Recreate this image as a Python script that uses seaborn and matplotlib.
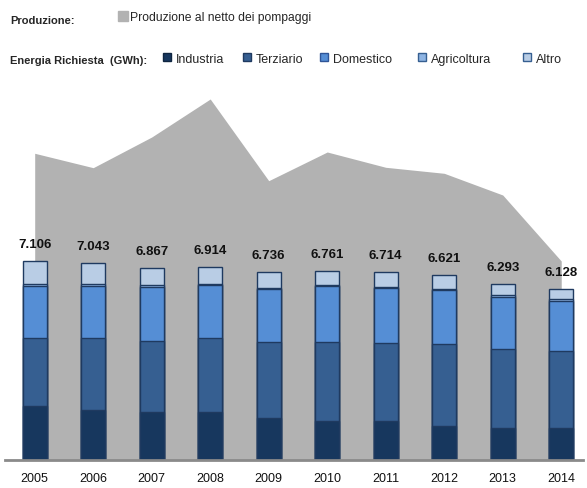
import seaborn as sns
import pandas as pd
import matplotlib.pyplot as plt
from matplotlib.patches import Rectangle

years = ['2005', '2006', '2007', '2008', '2009', '2010', '2011', '2012', '2013', '2014']
industria = [1922, 1780, 1730, 1726, 1513, 1400, 1388, 1228, 1142, 1149]
terziario = [2426, 2575, 2540, 2643, 2690, 2810, 2802, 2912, 2817, 2745]
domestico = [1875, 1877, 1923, 1882, 1898, 2000, 1943, 1937, 1878, 1800]
agricoltura = [54, 51, 48, 48, 47, 50, 50, 50, 50, 50]
altro = [829, 760, 626, 615, 588, 501, 531, 494, 406, 384]
produzione = [10968, 10453, 11550, 12909, 9988, 11014, 10467, 10252, 9476, 7116]

series_names = ['Industria', 'Terziario', 'Domestico', 'Agricoltura', 'Altro']
colors = ['#17375e', '#365f91', '#558ed5', '#8eb4e3', '#b9cde5']
edge = '#1f3a60'

df = pd.DataFrame({'anno': years, 'Industria': industria, 'Terziario': terziario,
                   'Domestico': domestico, 'Agricoltura': agricoltura, 'Altro': altro})
cum = df[series_names].cumsum(axis=1)
cum['anno'] = df['anno']

sns.set_style('white')
plt.rcParams['font.family'] = ['Liberation Sans', 'DejaVu Sans']

fig = plt.figure(figsize=(5.87, 4.89), dpi=100)
ax = fig.add_axes([0.00928, 0.05726, 0.9847, 0.7587])

# area: produzione al netto dei pompaggi
ax.fill_between(range(len(years)), produzione, color='#b2b2b2', lw=0, zorder=0)

# stacked bars, drawn from the top segment down
for name, col in reversed(list(zip(series_names, colors))):
    sns.barplot(data=cum, x='anno', y=name, color=col, width=0.41,
                edgecolor=edge, linewidth=1, saturation=1, ax=ax, zorder=2)

totals = cum['Altro'].tolist()
for i, t in enumerate(totals):
    ax.annotate(f'{t:,}'.replace(',', '.'), (i, t), xytext=(0, 8), textcoords='offset points',
                ha='center', va='bottom', fontsize=9.5, fontweight='bold', color='#111111')

ax.set_xlim(-0.5, 9.38)
ax.set_ylim(0, 13267)
ax.set_xlabel('')
ax.set_ylabel('')
ax.set_yticks([])
ax.tick_params(axis='x', length=0, pad=9, labelsize=9, colors='#111111')
for s in ['top', 'left', 'right']:
    ax.spines[s].set_visible(False)
ax.spines['bottom'].set_color('#8a8a8a')
ax.spines['bottom'].set_linewidth(2)
ax.patch.set_alpha(0)

# legend block
W, H = 587, 489


def sq(x, y, size, fc, ec):
    fig.patches.append(Rectangle((x / W, 1 - (y + size) / H), size / W, size / H,
                                 transform=fig.transFigure, facecolor=fc, edgecolor=ec, lw=1))


fig.text(10 / W, 1 - 21 / H, 'Produzione:', fontsize=8, fontweight='bold', va='center')
sq(118, 12, 10, '#b2b2b2', '#b2b2b2')
fig.text(130 / W, 1 - 18 / H, 'Produzione al netto dei pompaggi', fontsize=8.7, va='center')

fig.text(10 / W, 1 - 61 / H, 'Energia Richiesta  (GWh):', fontsize=8, fontweight='bold', va='center')
leg_x = [163, 243, 320, 418, 523]
edges = ['#0f2540', '#1f3a60', '#2f5597', '#365f91', '#365f91']
for x, name, col, ec in zip(leg_x, series_names, colors, edges):
    sq(x, 54, 8, col, ec)
    fig.text((x + 13) / W, 1 - 60 / H, name, fontsize=9, va='center')

fig.savefig('out.png', dpi=100)
